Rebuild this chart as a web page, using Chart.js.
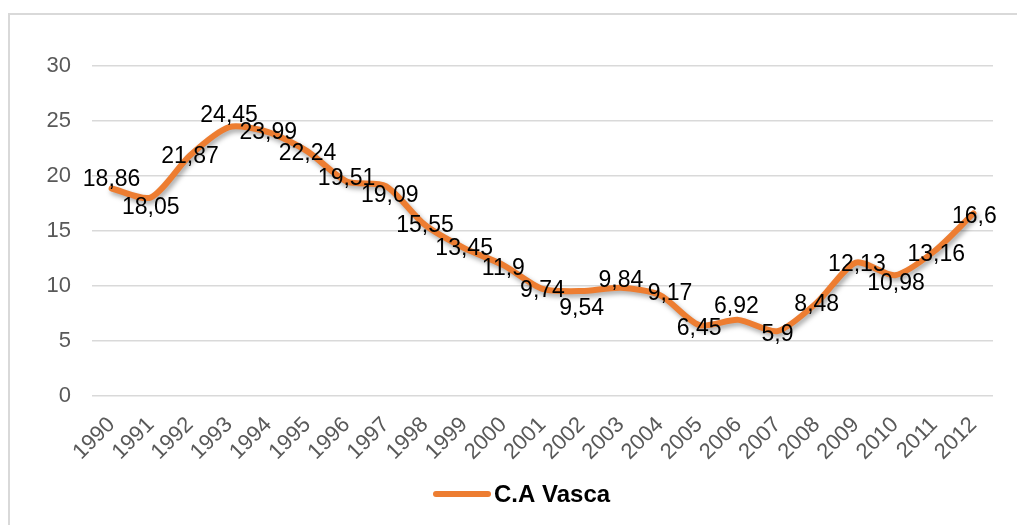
<!DOCTYPE html>
<html>
<head>
<meta charset="utf-8">
<script src="https://cdn.jsdelivr.net/npm/chart.js@4.4.1/dist/chart.umd.min.js"></script>
<style>
  html, body { margin: 0; padding: 0; background: #ffffff; }
  #wrap { width: 1017px; height: 525px; position: relative; }
</style>
</head>
<body>
<div id="wrap"><canvas id="c"></canvas></div>
<script>
const years = ['1990','1991','1992','1993','1994','1995','1996','1997','1998','1999','2000','2001','2002','2003','2004','2005','2006','2007','2008','2009','2010','2011','2012'];
const seriesName = 'C.A Vasca';
const values = [18.86, 18.05, 21.87, 24.45, 23.99, 22.24, 19.51, 19.09, 15.55, 13.45, 11.9, 9.74, 9.54, 9.84, 9.17, 6.45, 6.92, 5.9, 8.48, 12.13, 10.98, 13.16, 16.6];
const yTicks = [0, 5, 10, 15, 20, 25, 30];

// label placement tweaks (style only): pixel offsets from each point
const labelDX = [0,0,0,0,0,0,0,4,0,0,0,0,0,0,10,0,-2,0,0,1,1,2,1];
const labelDY = [-10,9,0,-12,0,1,-4,9,0,0,3,1,17,-8,-2,3,-14,3,1,1,7,2,2];

const FONT = '"Liberation Sans", Arial, sans-serif';

const frame = {
  id: 'frame',
  beforeDraw(chart) {
    const ctx = chart.ctx;
    ctx.save();
    ctx.strokeStyle = '#d9d9d9';
    ctx.lineWidth = 2;
    ctx.strokeRect(9, 14, 1040, 540);
    ctx.restore();
  }
};

const shadow = {
  id: 'shadow',
  beforeDatasetsDraw(chart) {
    const ctx = chart.ctx;
    ctx.save();
    ctx.shadowColor = 'rgba(0,0,0,0.35)';
    ctx.shadowBlur = 5;
    ctx.shadowOffsetX = 2;
    ctx.shadowOffsetY = 3;
  },
  afterDatasetsDraw(chart) {
    chart.ctx.restore();
  }
};

const valueLabels = {
  id: 'valueLabels',
  afterDatasetsDraw(chart) {
    const ctx = chart.ctx;
    const meta = chart.getDatasetMeta(0);
    ctx.save();
    ctx.shadowColor = 'transparent';
    ctx.font = '23px ' + FONT;
    ctx.fillStyle = '#000000';
    ctx.textAlign = 'center';
    ctx.textBaseline = 'middle';
    meta.data.forEach((pt, i) => {
      const txt = String(chart.data.datasets[0].data[i]).replace('.', ',');
      ctx.fillText(txt, pt.x + labelDX[i], pt.y + labelDY[i] + 1);
    });
    ctx.restore();
  }
};

const bottomLegend = {
  id: 'bottomLegend',
  afterDraw(chart) {
    const ctx = chart.ctx;
    const ds = chart.data.datasets[0];
    const y = 494;
    ctx.save();
    ctx.strokeStyle = ds.borderColor;
    ctx.lineWidth = 6;
    ctx.lineCap = 'round';
    ctx.beginPath();
    ctx.moveTo(436, y);
    ctx.lineTo(488, y);
    ctx.stroke();
    ctx.fillStyle = '#000000';
    ctx.font = 'bold 24px ' + FONT;
    ctx.textAlign = 'left';
    ctx.textBaseline = 'middle';
    ctx.fillText(ds.label, 494, y + 1);
    ctx.restore();
  }
};

new Chart(document.getElementById('c'), {
  type: 'line',
  data: {
    labels: years,
    datasets: [{
      label: seriesName,
      data: values,
      borderColor: '#ED7D31',
      backgroundColor: '#ED7D31',
      borderWidth: 6,
      borderCapStyle: 'round',
      borderJoinStyle: 'round',
      pointRadius: 0,
      pointHoverRadius: 0,
      tension: 0.25,
      fill: false
    }]
  },
  options: {
    responsive: true,
    maintainAspectRatio: false,
    animation: false,
    events: [],
    layout: { padding: { left: 0, right: 24, top: 66, bottom: 51 } },
    scales: {
      x: {
        offset: true,
        grid: { display: false, drawTicks: false },
        border: { display: false },
        ticks: {
          color: '#595959',
          font: { size: 22, family: FONT },
          maxRotation: 45,
          minRotation: 45,
          autoSkip: false,
          padding: 16
        },
        afterFit(s) { s.height = 78; }
      },
      y: {
        min: 0,
        max: 30,
        afterBuildTicks(s) { s.ticks = yTicks.map(v => ({ value: v })); },
        grid: { color: '#d9d9d9', lineWidth: 1.5, drawTicks: false },
        border: { display: false },
        ticks: {
          color: '#595959',
          font: { size: 22, family: FONT },
          padding: 21
        },
        afterFit(s) { s.width = 92; }
      }
    },
    plugins: {
      tooltip: { enabled: false },
      legend: { display: false }
    }
  },
  plugins: [frame, shadow, valueLabels, bottomLegend]
});
</script>
</body>
</html>
